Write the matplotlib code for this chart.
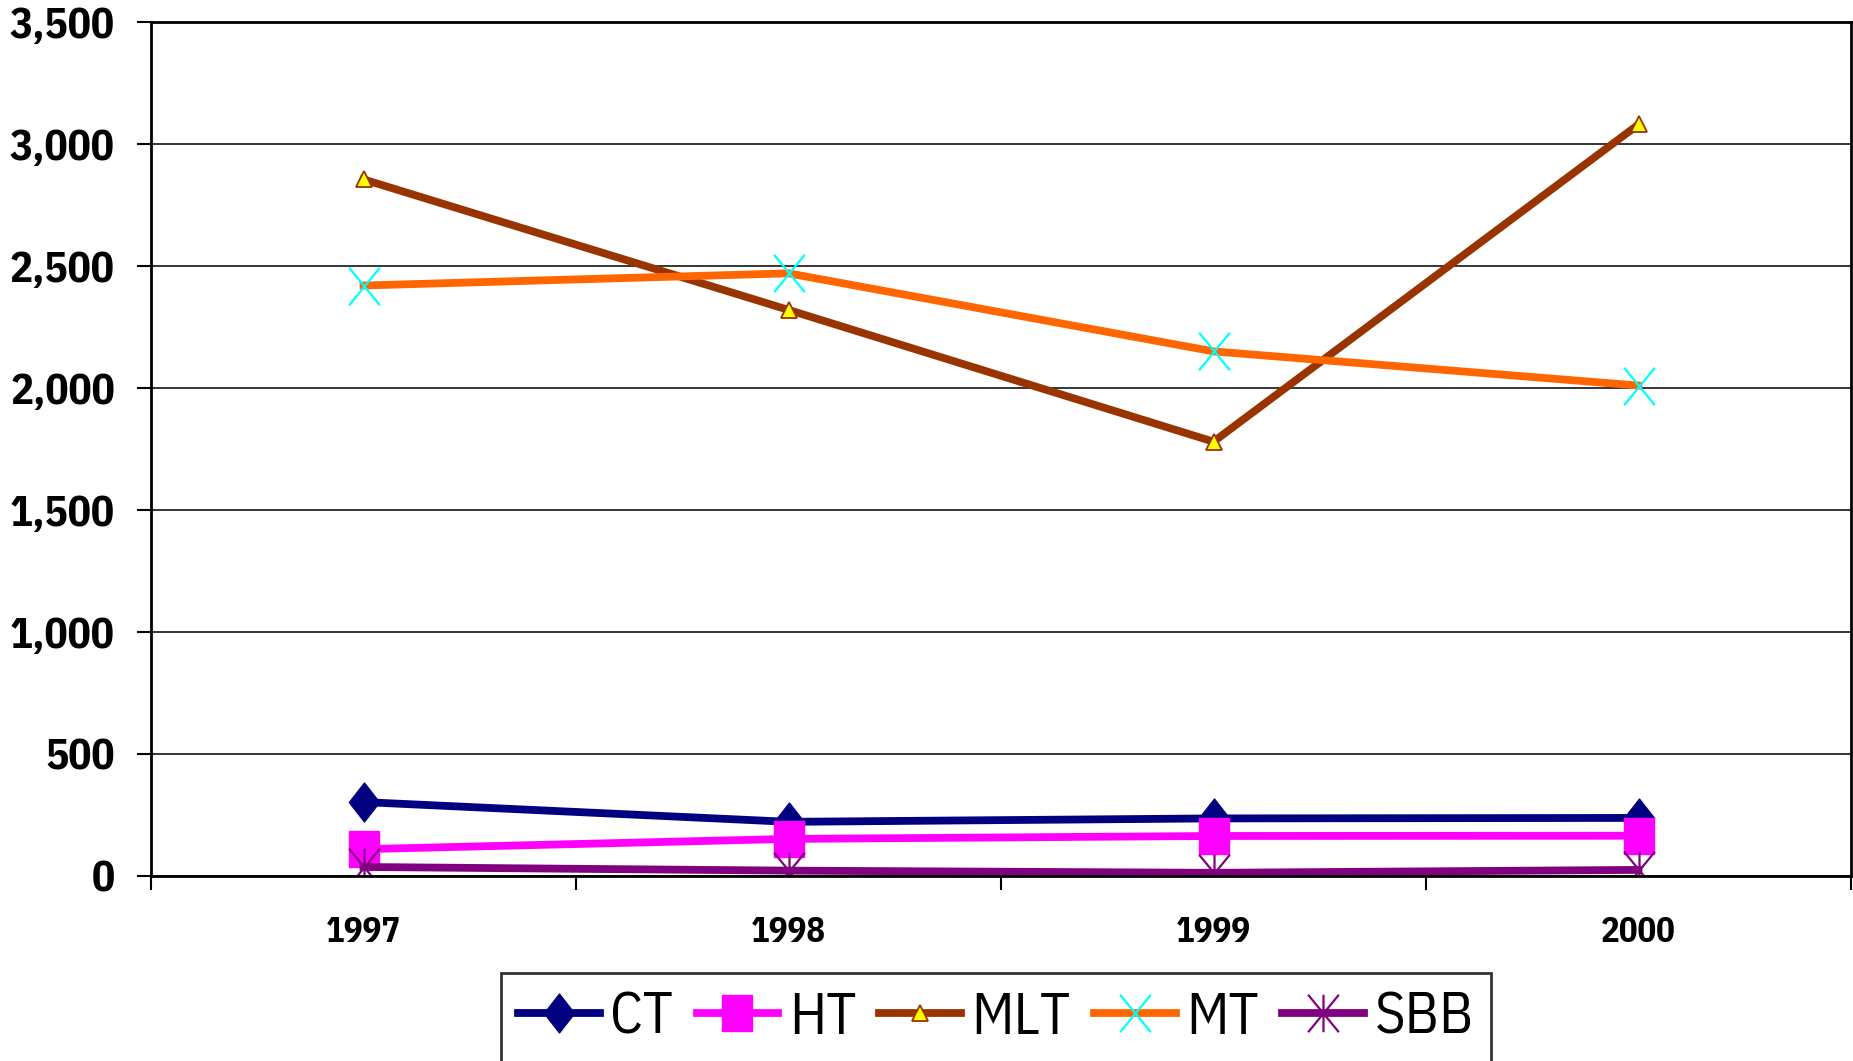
import matplotlib
matplotlib.use("Agg")
import matplotlib.pyplot as plt
import numpy as np
from matplotlib.path import Path
from matplotlib.ticker import MultipleLocator, FuncFormatter, FixedLocator

plt.rcParams['font.family'] = ['IBM Plex Sans Condensed', 'DejaVu Sans']

years = ['1997', '1998', '1999', '2000']
ct = [303, 222, 236, 238]
ht = [110, 152, 164, 165]
mlt = [2855, 2320, 1780, 3080]
mt = [2420, 2470, 2150, 2010]
sbb = [37, 22, 13, 25]

# marker shapes (slightly taller than wide)
diamond = Path([(0, 1), (0.78, 0), (0, -1), (-0.78, 0), (0, 1)], closed=True)
square = Path([(-0.85, -1), (0.85, -1), (0.85, 1), (-0.85, 1), (-0.85, -1)], closed=True)
xmark = Path([(-0.82, -1), (0.82, 1), (-0.82, 1), (0.82, -1)],
             [Path.MOVETO, Path.LINETO, Path.MOVETO, Path.LINETO])
star = Path([(-0.82, -1), (0.82, 1), (-0.82, 1), (0.82, -1), (0, -1), (0, 1)],
            [Path.MOVETO, Path.LINETO, Path.MOVETO, Path.LINETO, Path.MOVETO, Path.LINETO])

fig = plt.figure(figsize=(18.53, 10.61), dpi=100)
ax = fig.add_axes([151 / 1853, 1 - 876 / 1061, 1700 / 1853, 854 / 1061])

x = np.arange(len(years))
lw = 5.6
ax.plot(x, ct, color='#000080', lw=lw, marker=diamond, ms=28, mfc='#000080', mec='#000080', label='CT')
ax.plot(x, ht, color='#FF00FF', lw=lw, marker=square, ms=26, mfc='#FF00FF', mec='#FF00FF', label='HT')
ax.plot(x, mlt, color='#993300', lw=lw, marker='^', ms=12, mfc='#FFFF00', mec='#993300', mew=1.3, label='MLT')
ax.plot(x, mt, color='#FF6600', lw=lw, marker=xmark, ms=27, mfc='none', mec='#00FFFF', mew=1.6, label='MT')
ax.plot(x, sbb, color='#800080', lw=lw, marker=star, ms=27, mfc='none', mec='#800080', mew=1.6, label='SBB')

ax.set_ylim(0, 3500)
ax.set_xlim(-0.5, 3.5)
ax.yaxis.set_major_locator(MultipleLocator(500))
ax.yaxis.set_major_formatter(FuncFormatter(lambda v, p: f'{int(v):,}'))
ax.grid(axis='y', color='black', lw=1.1)
ax.set_axisbelow(True)

ax.xaxis.set_major_locator(FixedLocator(np.arange(-0.5, 4, 1)))
ax.xaxis.set_major_formatter(FuncFormatter(lambda v, p: ''))
ax.xaxis.set_minor_locator(FixedLocator(x))
ax.set_xticklabels(years, minor=True)
ax.tick_params(axis='x', which='major', direction='out', length=10, width=1.5)
ax.tick_params(axis='x', which='minor', length=0, pad=29, labelsize=25)
ax.tick_params(axis='y', direction='out', length=10, width=1.5, pad=16, labelsize=31)
for lab in ax.get_xticklabels(minor=True) + ax.get_yticklabels():
    lab.set_fontweight('bold')

for s in ax.spines.values():
    s.set_linewidth(2)
    s.set_color('black')

leg = fig.legend(loc='upper center', bbox_to_anchor=(996 / 1853, 1 - 973 / 1061), ncol=5,
                 fontsize=42, frameon=True, fancybox=False, handlelength=1.4,
                 handletextpad=0.18, columnspacing=0.4, borderpad=0.3, borderaxespad=0)
leg.get_frame().set_edgecolor('black')
leg.get_frame().set_linewidth(2)

fig.savefig('out.png', dpi=100)
